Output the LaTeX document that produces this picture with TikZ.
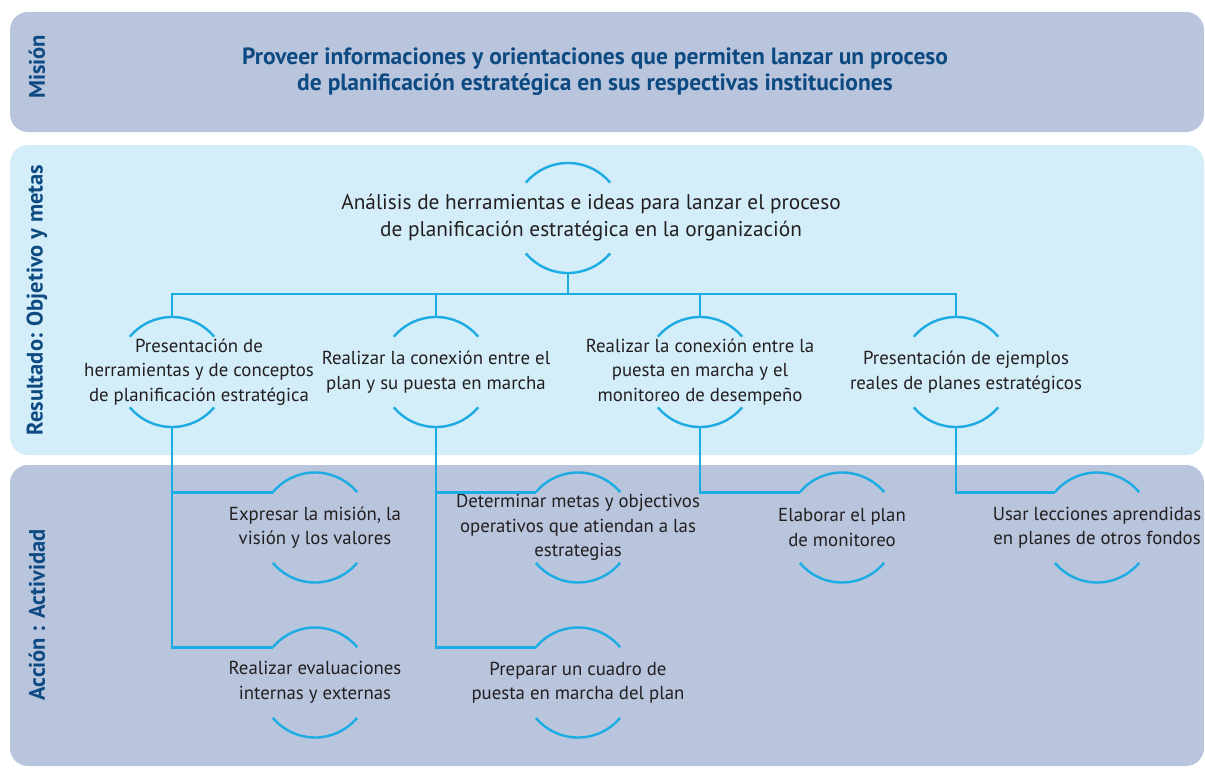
\documentclass[tikz,border=0pt]{standalone}
\usepackage{fontspec}
\setmainfont{PT Sans}
\definecolor{bandA}{HTML}{B9C4DD}
\definecolor{bandB}{HTML}{D3EDF9}
\definecolor{navy}{HTML}{0D4A82}
\definecolor{cyanline}{HTML}{1AACE3}
\definecolor{ink}{HTML}{231F20}
\newcommand\bubnode[6]{% #1 name, #2 cx, #3 cy, #4 text x offset, #5 extra style, #6 text
  \coordinate (#1) at (#2,#3);
  \node[bubtext,#5] (#1-txt) at ([xshift=#4]#1) {#6};
  \draw[arcline] ([shift={(40:55)}]#1) arc[start angle=40,end angle=140,radius=55];
  \draw[arcline] ([shift={(220:55)}]#1) arc[start angle=220,end angle=320,radius=55];
  \coordinate (#1-t) at ([shift={(90:55)}]#1);
  \coordinate (#1-b) at ([shift={(270:55)}]#1);
  \coordinate (#1-l) at ([shift={(140:55)}]#1);
}
\begin{document}
\begin{tikzpicture}[x=1pt,y=1pt,
  band/.style={rounded corners=18pt},
  conn/.style={draw=cyanline,line width=2.8pt},
  arcline/.style={draw=cyanline,line width=2.4pt},
  bubtext/.style={text=ink,align=center,font=\fontsize{18.8}{24.5}\selectfont,inner sep=0pt},
  bigtext/.style={font=\fontsize{21.3}{27}\selectfont},
  sidelabel/.style={text=navy,font=\bfseries\fontsize{22.5}{24}\selectfont,rotate=90},
  missiontext/.style={text=navy,align=center,font=\bfseries\fontsize{23.5}{26}\selectfont,inner sep=0pt},
]
\useasboundingbox (0,0) rectangle (1205,-769);
\fill[white] (0,0) rectangle (1205,-769);
\fill[bandA,band] (10,-12) rectangle (1204,-132);
\fill[bandB,band] (10,-145) rectangle (1204,-455);
\fill[bandA,band] (10,-465) rectangle (1204,-766);

\node[sidelabel] (lm) at (37,-67) {Misión};
\node[sidelabel] (lr) at (37,-300) {Resultado: Objetivo y metas};
\node[sidelabel] (la) at (37,-615) {Acción : Actividad};

\node[missiontext] (mt) at (595,-72) {Proveer informaciones y orientaciones que permiten lanzar un proceso\\de planificación estratégica en sus respectivas instituciones};

\bubnode{top}{568}{-218}{23}{bigtext}{Análisis de herramientas e ideas para lanzar el proceso\\de planificación estratégica en la organización}

\bubnode{r1}{172}{-372}{27}{}{Presentación de\\herramientas y de conceptos\\de planificación estratégica}
\bubnode{r2}{436}{-372}{0}{}{Realizar la conexión entre el\\plan y su puesta en marcha}
\bubnode{r3}{700}{-372}{0}{}{Realizar la conexión entre la\\puesta en marcha y el\\monitoreo de desempeño}
\bubnode{r4}{956}{-372}{10}{}{Presentación de ejemplos\\reales de planes estratégicos}

\bubnode{a1}{315}{-527.5}{0}{}{Expresar la misión, la\\visión y los valores}
\bubnode{a2}{578}{-527.5}{0}{}{Determinar metas y objectivos\\operativos que atiendan a las\\estrategias}
\bubnode{a3}{842}{-527.5}{0}{}{Elaborar el plan\\de monitoreo}
\bubnode{a4}{1097}{-527.5}{0}{}{Usar lecciones aprendidas\\en planes de otros fondos}
\bubnode{a5}{315}{-682.5}{0}{}{Realizar evaluaciones\\internas y externas}
\bubnode{a6}{578}{-682.5}{0}{}{Preparar un cuadro de\\puesta en marcha del plan}

\coordinate (bar) at (568,-294);
\draw[conn] (top-b) -- (bar);
\draw[conn] (r1-t) -- (r1-t |- bar) -- (r4-t |- bar) -- (r4-t);
\draw[conn] (r2-t) -- (r2-t |- bar);
\draw[conn] (r3-t) -- (r3-t |- bar);

\draw[conn] (r1-b) |- (a1-l);
\draw[conn] (r1-b) |- (a5-l);
\draw[conn] (r2-b) |- (a2-l);
\draw[conn] (r2-b) |- (a6-l);
\draw[conn] (r3-b) |- (a3-l);
\draw[conn] (r4-b) |- (a4-l);
\end{tikzpicture}
\end{document}
